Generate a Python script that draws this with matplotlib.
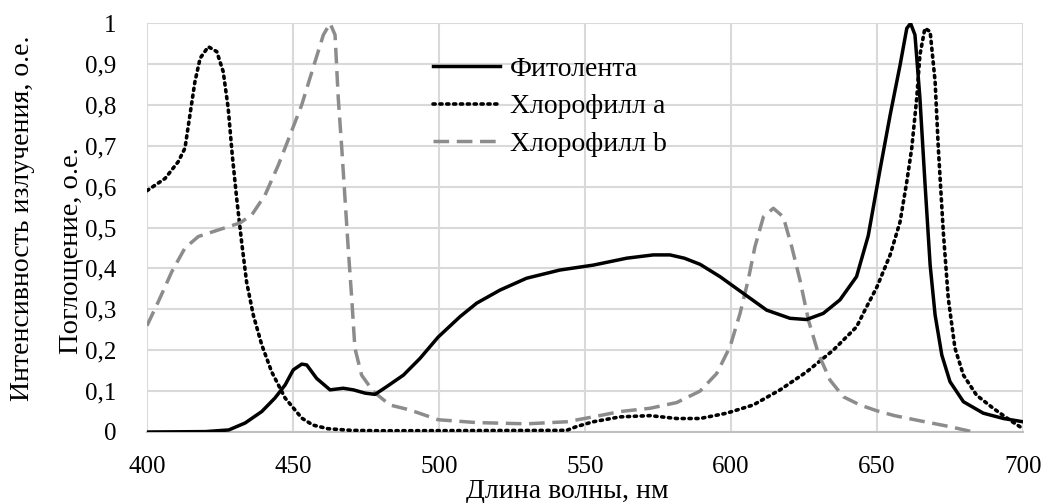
import matplotlib
matplotlib.use("Agg")
import matplotlib.pyplot as plt
from matplotlib.ticker import FuncFormatter

plt.rcParams['font.family'] = ['Liberation Serif', 'DejaVu Serif']

# Фитолента (emission spectrum)
wl_f = [400, 420, 428, 433.6, 439.3, 443.8, 447.3, 450.1, 453, 454.7, 458.1, 462.7, 467.2,
        470.7, 474.7, 478.1, 482.1, 487.8, 493.5, 499.7, 507.2, 512.9, 520.9, 530, 541.4,
        552.8, 564.3, 573.4, 579.1, 584, 589.4, 596.2, 604.2, 612.2, 620.2, 625.9, 631.6,
        637.3, 643, 647, 651, 654.5, 657.9, 660.2, 661.5, 663, 664.7, 666.4, 668.2, 669.9,
        672.2, 675, 679.6, 686.4, 693.3, 700]
val_f = [0.0, 0.001, 0.005, 0.022, 0.05, 0.083, 0.115, 0.152, 0.166, 0.164, 0.131, 0.103, 0.107,
         0.103, 0.095, 0.092, 0.111, 0.139, 0.18, 0.232, 0.282, 0.315, 0.347, 0.376, 0.396,
         0.408, 0.425, 0.433, 0.433, 0.425, 0.41, 0.38, 0.339, 0.298, 0.278, 0.275, 0.29,
         0.323, 0.38, 0.48, 0.64, 0.775, 0.897, 0.987, 0.999, 0.971, 0.816, 0.612, 0.408, 0.286,
         0.188, 0.123, 0.074, 0.046, 0.033, 0.025]

# Хлорофилл a (absorption)
wl_a = [400, 406.2, 410.7, 413, 414.7, 416.4, 418.2, 421, 423.9, 426.1, 427.8, 429.2, 430.7,
        432.4, 434.1, 436.4, 439.3, 442.7, 447.3, 453, 456.8, 462, 470, 480, 543.7, 547,
        552.8, 562, 572.3, 581.4, 589.4, 598.5, 607.6, 616.8, 625.9, 635, 643, 646, 650,
        654.5, 657.9, 660.2, 661.9, 663.6, 664.7, 666.4, 668.2, 669.9, 671, 672.7, 674.4, 676.7,
        679.6, 684.1, 689.8, 695.5, 700]
val_a = [0.59, 0.62, 0.661, 0.694, 0.775, 0.856, 0.914, 0.942, 0.93, 0.881, 0.792, 0.677, 0.572,
         0.465, 0.367, 0.286, 0.213, 0.147, 0.083, 0.034, 0.017, 0.008, 0.004, 0.003, 0.004, 0.013,
         0.025, 0.037, 0.04, 0.033, 0.033, 0.046, 0.066, 0.103, 0.147, 0.2, 0.257, 0.3, 0.355,
         0.433, 0.514, 0.612, 0.694, 0.816, 0.922, 0.987, 0.979, 0.857, 0.694, 0.49, 0.327, 0.205,
         0.139, 0.09, 0.058, 0.029, 0.008]

# Хлорофилл b (absorption)
wl_b = [400, 403.9, 408.5, 413, 417.6, 424.4, 431.8, 435.9, 440.4, 445, 449, 453, 457, 460.4,
        462.7, 464.4, 465.5, 466.7, 467.8, 468.9, 470.1, 471.2, 473.5, 477.5, 483.2, 490,
        499.7, 512.9, 530, 543.7, 552.8, 562, 572.3, 581.4, 589.4, 595.1, 599.7, 603.1, 605.9,
        608.2, 611.1, 614.5, 617.9, 620.8, 623.6, 626.5, 629.9, 633.9, 638.5, 644.2, 649.9,
        656, 663.6, 675, 683]
val_b = [0.26, 0.319, 0.392, 0.45, 0.478, 0.494, 0.511, 0.531, 0.579, 0.653, 0.726, 0.8, 0.893, 0.971,
         0.999, 0.971, 0.816, 0.694, 0.572, 0.45, 0.328, 0.205, 0.139, 0.099, 0.066, 0.054,
         0.03, 0.023, 0.02, 0.025, 0.037, 0.05, 0.058, 0.072, 0.1, 0.143, 0.209, 0.29, 0.372,
         0.453, 0.526, 0.547, 0.526, 0.453, 0.372, 0.274, 0.192, 0.127, 0.086, 0.066, 0.052,
         0.04, 0.029, 0.013, 0.0]

x_ticks = [400, 450, 500, 550, 600, 650, 700]
y_ticks = [0, 0.1, 0.2, 0.3, 0.4, 0.5, 0.6, 0.7, 0.8, 0.9, 1.0]

fig = plt.figure(figsize=(10.46, 5.03), dpi=100)
ax = fig.add_axes([147 / 1046, (503 - 432) / 503, 876 / 1046, 409 / 503])

ax.plot(wl_f, val_f, color='black', lw=2.5, label='Фитолента', zorder=4,
        solid_joinstyle='round')
ax.plot(wl_a, val_a, color='black', lw=2.6, linestyle=(0, (0.6, 1.3)),
        dash_capstyle='round', label='Хлорофилл a', zorder=3)
ax.plot(wl_b, val_b, color='#8c8c8c', lw=2.5, linestyle=(0, (4.5, 2.2)),
        label='Хлорофилл b', zorder=3)

ax.set_xlim(400, 700)
ax.set_ylim(0, 1)
ax.set_xticks(x_ticks)
ax.set_yticks(y_ticks)
ax.yaxis.set_major_formatter(FuncFormatter(lambda v, p: ('%g' % v).replace('.', ',')))
ax.grid(True, color='#d9d9d9', lw=1.5)
ax.set_axisbelow(True)
for s in ['top', 'right', 'left']:
    ax.spines[s].set_visible(False)
ax.spines['bottom'].set_color('#bfbfbf')
ax.spines['bottom'].set_linewidth(1.5)
ax.tick_params(length=0, labelsize=18)
ax.tick_params(axis='x', pad=17)
ax.tick_params(axis='y', pad=22)

fig.text(567 / 1046, 1 - 492 / 503, 'Длина волны, нм', ha='center', va='center', fontsize=20)
fig.text(23 / 1046, 1 - 218 / 503, 'Интенсивность излучения, о.е.', rotation=90,
         ha='center', va='center', fontsize=20)
fig.text(72 / 1046, 1 - 251 / 503, 'Поглощение, о.е.', rotation=90,
         ha='center', va='center', fontsize=20.5)

leg = ax.legend(loc='upper left', bbox_to_anchor=(0.327, 0.919), frameon=False,
                fontsize=20, handlelength=2.4, handletextpad=0.36, labelspacing=0.44,
                borderaxespad=0, borderpad=0)

fig.savefig('out.png', dpi=100)
